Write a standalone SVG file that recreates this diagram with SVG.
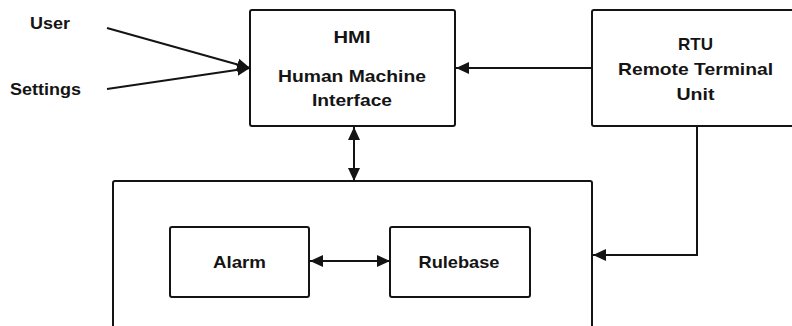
<svg xmlns="http://www.w3.org/2000/svg" width="792" height="326" viewBox="0 0 792 326">
  <style>
    .box { fill: #ffffff; stroke: #141414; stroke-width: 2; }
    .wire { fill: none; stroke: #141414; stroke-width: 2; }
    .lbl { font-family: "Liberation Sans", Arial, sans-serif; font-weight: bold; font-size: 17px; fill: #141414; text-anchor: middle; }
  </style>
  <defs>
    <marker id="arrow" markerUnits="userSpaceOnUse" markerWidth="14" markerHeight="12" refX="13" refY="6" orient="auto-start-reverse">
      <path d="M0,0 L13,6 L0,12 Z" fill="#141414"/>
    </marker>
  </defs>

  <rect width="792" height="326" fill="#ffffff"/>

  <!-- outer container, runs past the bottom edge -->
  <g id="system">
    <rect class="box" x="113" y="181" width="479" height="170" rx="2"/>
  </g>

  <g id="hmi">
    <rect class="box" x="250" y="10" width="205" height="116" rx="2"/>
    <text class="lbl" x="352" y="43" textLength="37" lengthAdjust="spacingAndGlyphs">HMI</text>
    <text class="lbl" x="352" y="82" textLength="148" lengthAdjust="spacingAndGlyphs">Human Machine</text>
    <text class="lbl" x="352" y="106" textLength="80" lengthAdjust="spacingAndGlyphs">Interface</text>
  </g>

  <!-- RTU box continues past the right edge -->
  <g id="rtu">
    <rect class="box" x="592" y="10" width="210" height="116" rx="2"/>
    <text class="lbl" x="695.5" y="50" textLength="35" lengthAdjust="spacingAndGlyphs">RTU</text>
    <text class="lbl" x="695.5" y="75" textLength="155" lengthAdjust="spacingAndGlyphs">Remote Terminal</text>
    <text class="lbl" x="695.5" y="100" textLength="38" lengthAdjust="spacingAndGlyphs">Unit</text>
  </g>

  <g id="alarm">
    <rect class="box" x="170" y="227" width="139" height="70" rx="2"/>
    <text class="lbl" x="239.5" y="268" textLength="53" lengthAdjust="spacingAndGlyphs">Alarm</text>
  </g>

  <g id="rulebase">
    <rect class="box" x="390" y="227" width="140" height="70" rx="2"/>
    <text class="lbl" x="459" y="268" textLength="81" lengthAdjust="spacingAndGlyphs">Rulebase</text>
  </g>

  <g id="user">
    <text class="lbl" x="50" y="29" textLength="40" lengthAdjust="spacingAndGlyphs">User</text>
  </g>
  <g id="settings">
    <text class="lbl" x="45.5" y="95" textLength="71" lengthAdjust="spacingAndGlyphs">Settings</text>
  </g>

  <g id="connectors">
    <line class="wire" x1="107" y1="28" x2="250" y2="68" marker-end="url(#arrow)"/>
    <line class="wire" x1="107" y1="89" x2="250" y2="68" marker-end="url(#arrow)"/>
    <line class="wire" x1="592" y1="68" x2="456" y2="68" marker-end="url(#arrow)"/>
    <line class="wire" x1="354" y1="127" x2="354" y2="181" marker-start="url(#arrow)" marker-end="url(#arrow)"/>
    <polyline class="wire" points="697,126 697,255 593,255" marker-end="url(#arrow)"/>
    <line class="wire" x1="310" y1="261" x2="390" y2="261" marker-start="url(#arrow)" marker-end="url(#arrow)"/>
  </g>
</svg>
